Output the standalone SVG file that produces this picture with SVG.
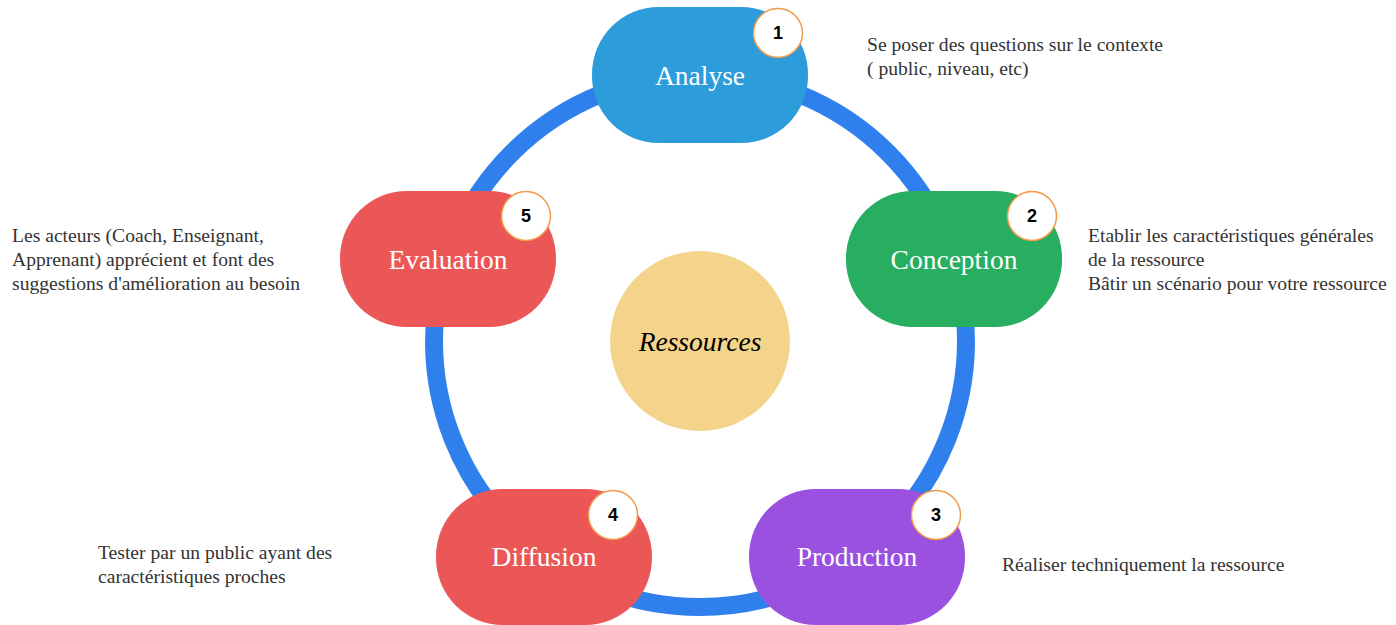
<svg xmlns="http://www.w3.org/2000/svg" width="1396" height="625" viewBox="0 0 1396 625">
  <style>
    .node-label { font-family: "Liberation Serif", "Times New Roman", serif; font-size: 27.5px; fill: #ffffff; text-anchor: middle; dominant-baseline: central; }
    .badge circle { fill: #ffffff; stroke: #f2994a; stroke-width: 1.5; }
    .badge text { font-family: "Liberation Sans", Arial, sans-serif; font-size: 18px; font-weight: bold; fill: #000000; text-anchor: middle; dominant-baseline: central; }
    .note { font-family: "Liberation Serif", "Times New Roman", serif; font-size: 19.6px; fill: #333333; }
    .ring { fill: none; stroke: #2f80ed; stroke-width: 18; }
  </style>

  <rect width="1396" height="625" fill="#ffffff"/>

  <!-- cycle ring connecting the five stages -->
  <g id="connectors">
    <circle class="ring" cx="700" cy="341" r="266"/>
  </g>

  <!-- central hub -->
  <g id="hub">
    <circle cx="700" cy="341" r="90" fill="#f4d48b"/>
    <text x="700" y="341" text-anchor="middle" dominant-baseline="central" font-family="Liberation Serif, Times New Roman, serif" font-size="27.5" font-style="italic" fill="#000000">Ressources</text>
  </g>

  <g id="analyse">
    <rect x="592" y="7" width="216" height="136" rx="67" ry="67" fill="#2d9cdb"/>
    <text class="node-label" x="700" y="75">Analyse</text>
    <g class="badge"><circle cx="778" cy="33" r="24.5"/><text x="778" y="33">1</text></g>
  </g>

  <g id="conception">
    <rect x="846" y="191" width="216" height="136" rx="67" ry="67" fill="#27ae60"/>
    <text class="node-label" x="954" y="259">Conception</text>
    <g class="badge"><circle cx="1032" cy="216" r="24.5"/><text x="1032" y="216">2</text></g>
  </g>

  <g id="production">
    <rect x="749" y="489" width="216" height="136" rx="67" ry="67" fill="#9b51e0"/>
    <text class="node-label" x="857" y="556">Production</text>
    <g class="badge"><circle cx="936" cy="515" r="24.5"/><text x="936" y="515">3</text></g>
  </g>

  <g id="diffusion">
    <rect x="436" y="489" width="216" height="136" rx="67" ry="67" fill="#eb5757"/>
    <text class="node-label" x="544" y="556">Diffusion</text>
    <g class="badge"><circle cx="613" cy="515" r="24.5"/><text x="613" y="515">4</text></g>
  </g>

  <g id="evaluation">
    <rect x="340" y="191" width="216" height="136" rx="67" ry="67" fill="#eb5757"/>
    <text class="node-label" x="448" y="259">Evaluation</text>
    <g class="badge"><circle cx="526" cy="216" r="24.5"/><text x="526" y="216">5</text></g>
  </g>

  <!-- stage descriptions -->
  <g id="notes">
    <text class="note" x="867" y="51">Se poser des questions sur le contexte</text>
    <text class="note" x="867" y="75">( public, niveau, etc)</text>

    <text class="note" x="1088" y="242">Etablir les caractéristiques générales</text>
    <text class="note" x="1088" y="266">de la ressource</text>
    <text class="note" x="1088" y="290">Bâtir un scénario pour votre ressource</text>

    <text class="note" x="1002" y="571">Réaliser techniquement la ressource</text>

    <text class="note" x="98" y="559">Tester par un public ayant des</text>
    <text class="note" x="98" y="583">caractéristiques proches</text>

    <text class="note" x="12" y="242">Les acteurs (Coach, Enseignant,</text>
    <text class="note" x="12" y="266">Apprenant) apprécient et font des</text>
    <text class="note" x="12" y="290">suggestions d'amélioration au besoin</text>
  </g>
</svg>
